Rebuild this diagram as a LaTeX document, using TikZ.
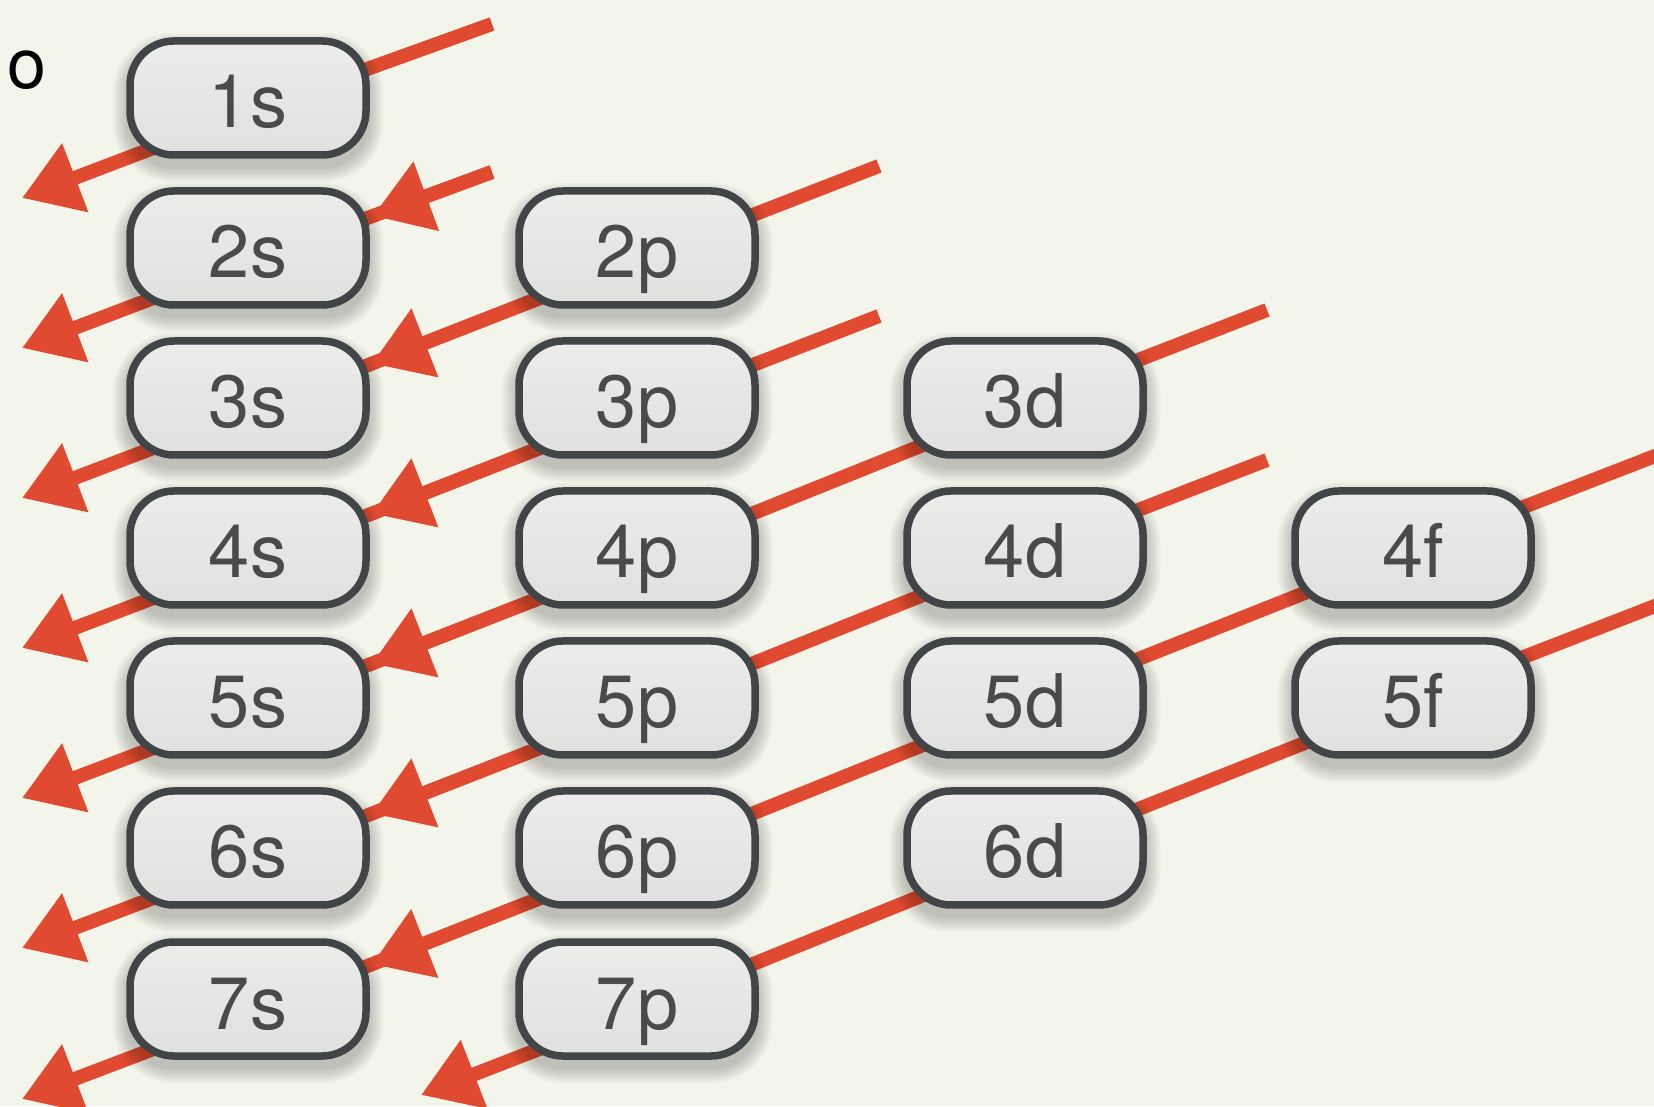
\documentclass[tikz,border=0pt]{standalone}
\usepackage{fontspec}
\setsansfont{TeX Gyre Heros}
\usetikzlibrary{arrows.meta,calc}

\definecolor{paper}{HTML}{F3F4EA}
\definecolor{rayred}{HTML}{E04A30}
\definecolor{boxline}{HTML}{414548}
\definecolor{boxtop}{HTML}{ECECEB}
\definecolor{boxbot}{HTML}{E0E0DF}
\definecolor{labelgray}{HTML}{4A4A4A}

\pgfdeclarelayer{rays}
\pgfsetlayers{rays,main}

% soft shadow followed by the orbital box itself
\newcommand\orbital[3]{%
  \foreach \k in {0,2,...,14}
    \fill[black, opacity=0.026, rounded corners={46pt+\k pt}]
      (#2-121.5-\k, #3-70-\k) rectangle (#2+121.5+\k, #3+51+\k);
  \node[orb] (#1) at (#2,#3) {#1};
}

\begin{document}
\begin{tikzpicture}[x=1pt,y=1pt,
  orb/.style={draw=boxline, line width=7.5pt, rounded corners=44pt,
    minimum width=236pt, minimum height=114pt, inner sep=0pt,
    top color=boxtop, bottom color=boxbot, text=labelgray,
    font=\sffamily\fontsize{74}{74}\selectfont,
    text height=60pt, text depth=0pt},
  ray/.style={draw=rayred, line width=14pt},
  tip/.style={-{Triangle[length=57pt,width=70pt]}},
  entry/.style={ray, tip, shorten >=133pt},
]
% page
\useasboundingbox (0,0) rectangle (1654,1106);
\begin{pgfonlayer}{rays}
  \fill[paper] (0,0) rectangle (1654,1106);
\end{pgfonlayer}

% heading fragment at the top left
\node[anchor=base east, inner sep=0pt, font=\sffamily\fontsize{70}{70}\selectfont]
  (head) at (47,1017) {o};

% orbital boxes: columns s, p, d, f; rows n = 1..7
\foreach \n/\y in {1/1008,2/858,3/708,4/558,5/408,6/258,7/107}
  {\orbital{\n s}{248}{\y}}
\foreach \n/\y in {2/858,3/708,4/558,5/408,6/258,7/107}
  {\orbital{\n p}{637}{\y}}
\foreach \n/\y in {3/708,4/558,5/408,6/258}
  {\orbital{\n d}{1025}{\y}}
\foreach \n/\y in {4/558,5/408}
  {\orbital{\n f}{1413}{\y}}

% points where the diagonals pass behind each box
\foreach \n in {1,...,7} \coordinate (\n s-o) at ([yshift=-14pt]\n s.center);
\foreach \n in {2,...,7} \coordinate (\n p-o) at ([yshift=-12pt]\n p.center);
\foreach \n in {3,...,6} \coordinate (\n d-o) at ([yshift=-6pt]\n d.center);
\foreach \n in {4,5}     \coordinate (\n f-o) at ([yshift=-2pt]\n f.center);

% free ends of the diagonals
\coordinate (t1) at ($(1s-o)+(244,88)$);
\coordinate (t2) at ($(2s-o)+(244,90)$);
\coordinate (t3) at ($(2p-o)+(242,94)$);
\coordinate (t4) at ($(3p-o)+(242,94)$);
\coordinate (t5) at ($(3d-o)+(242,94)$);
\coordinate (t6) at ($(4d-o)+(242,94)$);
\coordinate (t7) at ($(4f-o)+(260,101)$);
\coordinate (t8) at ($(5f-o)+(260,101)$);
\foreach \n in {1,...,7} \coordinate (e\n) at ($(\n s-o)+(-226,-86)$);
\coordinate (e8) at ($(7p-o)+(-216,-84)$);

% filling-order diagonals, behind the boxes
\begin{pgfonlayer}{rays}
  \draw[ray,tip] (t1) -- (1s-o) -- (e1);
  \draw[ray,tip] (t2) -- (2s-o) -- (e2);
  \draw[ray,tip] (t3) -- (2p-o) -- (3s-o) -- (e3);
  \draw[ray,tip] (t4) -- (3p-o) -- (4s-o) -- (e4);
  \draw[ray,tip] (t5) -- (3d-o) -- (4p-o) -- (5s-o) -- (e5);
  \draw[ray,tip] (t6) -- (4d-o) -- (5p-o) -- (6s-o) -- (e6);
  \draw[ray,tip] (t7) -- (4f-o) -- (5d-o) -- (6p-o) -- (7s-o) -- (e7);
  \draw[ray,tip] (t8) -- (5f-o) -- (6d-o) -- (7p-o) -- (e8);
  % arrowheads where each diagonal reaches the s column
  \draw[entry] (t2) -- (2s-o);
  \draw[entry] (2p-o) -- (3s-o);
  \draw[entry] (3p-o) -- (4s-o);
  \draw[entry] (4p-o) -- (5s-o);
  \draw[entry] (5p-o) -- (6s-o);
  \draw[entry] (6p-o) -- (7s-o);
\end{pgfonlayer}
\end{tikzpicture}
\end{document}
